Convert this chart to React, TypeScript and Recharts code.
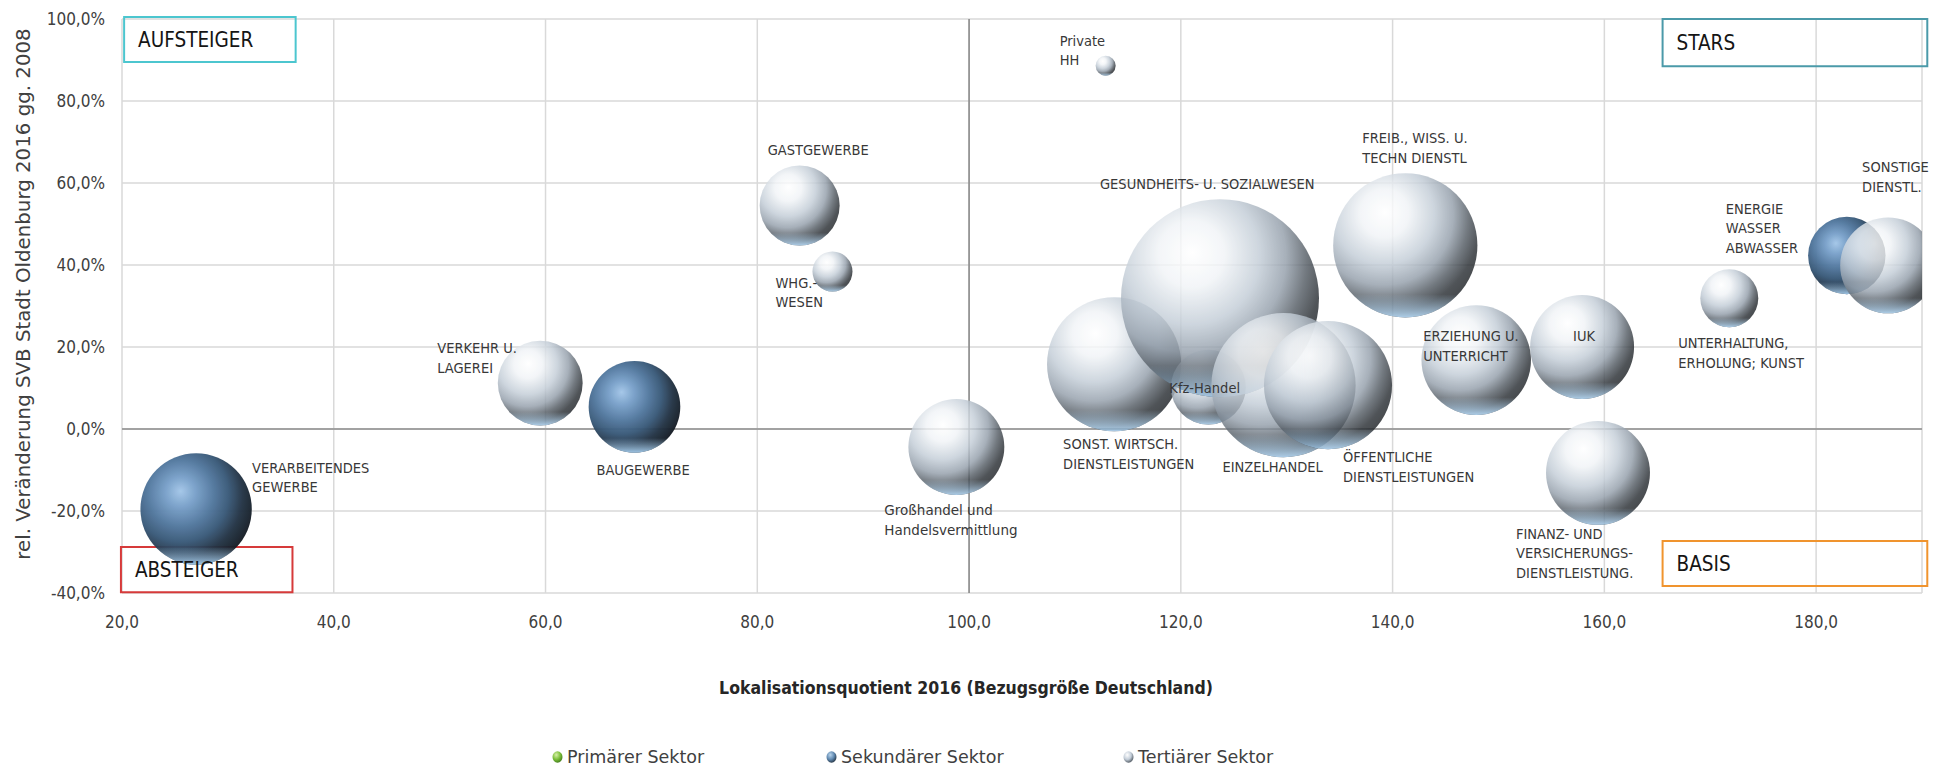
import React from 'react';
import * as Recharts from 'recharts';
import {
  ScatterChart,
  Scatter,
  XAxis,
  YAxis,
  ZAxis,
  CartesianGrid,
  ReferenceLine,
  ReferenceArea,
  Legend,
} from 'recharts';

// x = Lokalisationsquotient 2016, y = rel. Veränderung SVB 2016 gg. 2008 (%), z = SVB (Blasengröße)
const primaerLabels: string[] = [];
const primaerLQ: number[] = [];
const primaerChange: number[] = [];
const primaerSVB: number[] = [];

const sekundaerLabels = ['VERARBEITENDES\nGEWERBE', 'BAUGEWERBE', 'ENERGIE\nWASSER\nABWASSER'];
const sekundaerLQ = [27.0, 68.4, 182.9];
const sekundaerChange = [-19.5, 5.4, 42.3];
const sekundaerSVB = [3100, 2100, 1500];

const tertiaerLabels = [
  'Private\nHH',
  'WHG.-\nWESEN',
  'GASTGEWERBE',
  'VERKEHR U.\nLAGEREI',
  'Großhandel und\nHandelsvermittlung',
  'SONST. WIRTSCH.\nDIENSTLEISTUNGEN',
  'Kfz-Handel',
  'GESUNDHEITS- U. SOZIALWESEN',
  'EINZELHANDEL',
  'ÖFFENTLICHE\nDIENSTLEISTUNGEN',
  'FREIB., WISS. U.\nTECHN DIENSTL',
  'ERZIEHUNG U.\nUNTERRICHT',
  'IUK',
  'FINANZ- UND\nVERSICHERUNGS-\nDIENSTLEISTUNG.',
  'UNTERHALTUNG,\nERHOLUNG; KUNST',
  'SONSTIGE\nDIENSTL.',
];
const tertiaerLQ = [112.9, 87.1, 84.0, 59.5, 98.8, 113.7, 122.6, 123.7, 129.7, 133.9, 141.2, 147.9, 157.9, 159.4, 171.8, 186.8];
const tertiaerChange = [88.6, 38.4, 54.5, 11.2, -4.4, 15.8, 10.2, 31.9, 10.7, 10.7, 44.8, 16.8, 20.0, -10.7, 31.9, 39.9];
const tertiaerSVB = [100, 400, 1600, 1800, 2300, 4500, 1400, 9800, 5200, 4100, 5200, 3000, 2700, 2700, 840, 2300];

const xTicks = [20, 40, 60, 80, 100, 120, 140, 160, 180];
const yTicks = [-40, -20, 0, 20, 40, 60, 80, 100];

const xTitle = 'Lokalisationsquotient 2016 (Bezugsgröße Deutschland)';
const yTitle = 'rel. Veränderung SVB Stadt Oldenburg 2016 gg. 2008';

// Quadranten-Kästen (in Datenkoordinaten)
const QUADRANTS = [
  { text: 'AUFSTEIGER', x1: 20.2, x2: 36.4, y1: 89.5, y2: 100.5, color: '#4cc6cf' },
  { text: 'STARS', x1: 165.5, x2: 190.5, y1: 88.5, y2: 100, color: '#4b9aa9' },
  { text: 'ABSTEIGER', x1: 19.9, x2: 36.1, y1: -39.8, y2: -28.8, color: '#d63a3a' },
  { text: 'BASIS', x1: 165.5, x2: 190.5, y1: -38.3, y2: -27.3, color: '#f0942e' },
];

// label offset from bubble centre (first line)
const LABEL_OFFSETS: Record<string, [number, number]> = {
  'VERARBEITENDES\nGEWERBE': [56, -40],
  BAUGEWERBE: [-38, 64],
  'ENERGIE\nWASSER\nABWASSER': [-121, -46],
  'Private\nHH': [-46, -24],
  'WHG.-\nWESEN': [-57, 12],
  GASTGEWERBE: [-32, -55],
  'VERKEHR U.\nLAGEREI': [-103, -34],
  'Großhandel und\nHandelsvermittlung': [-72, 64],
  'SONST. WIRTSCH.\nDIENSTLEISTUNGEN': [-51, 81],
  'Kfz-Handel': [-39, 2],
  'GESUNDHEITS- U. SOZIALWESEN': [-120, -113],
  EINZELHANDEL: [-61, 83],
  'ÖFFENTLICHE\nDIENSTLEISTUNGEN': [15, 73],
  'FREIB., WISS. U.\nTECHN DIENSTL': [-43, -106],
  'ERZIEHUNG U.\nUNTERRICHT': [-53, -23],
  IUK: [-9, -10],
  'FINANZ- UND\nVERSICHERUNGS-\nDIENSTLEISTUNG.': [-82, 62],
  'UNTERHALTUNG,\nERHOLUNG; KUNST': [-51, 46],
  'SONSTIGE\nDIENSTL.': [-26, -97],
};

const COND = '"DejaVu Sans Condensed", "Liberation Sans Narrow", "DejaVu Sans", sans-serif';
const SANS = '"DejaVu Sans", Verdana, sans-serif';
const TEXT = '#404040';

const toPoints = (labels: string[], lq: number[], change: number[], svb: number[]) =>
  labels.map((label, i) => ({ label, x: lq[i], y: change[i], z: svb[i] }));

const primaer = toPoints(primaerLabels, primaerLQ, primaerChange, primaerSVB);
const sekundaer = toPoints(sekundaerLabels, sekundaerLQ, sekundaerChange, sekundaerSVB);
const tertiaer = toPoints(tertiaerLabels, tertiaerLQ, tertiaerChange, tertiaerSVB);

const fmt = (v: number) => v.toFixed(1).replace('.', ',');

// clip bubbles to the plot area (SONSTIGE DIENSTL. is cut at the right edge)
const PlotClip = () => {
  const R: any = Recharts;
  const area = R.usePlotArea ? R.usePlotArea() : null;
  if (!area) return null;
  return (
    <defs>
      <clipPath id="plotClip">
        <rect x={area.x} y={area.y - 200} width={area.width} height={area.height + 400} />
      </clipPath>
    </defs>
  );
};
const hasClip = !!(Recharts as any).usePlotArea;

const sphere = (grad: string, opacity: number) => (props: any) => {
  const { cx, cy, width } = props;
  const r = width / 2;
  if (!r) return <g />;
  return (
    <g opacity={opacity} clipPath={hasClip ? 'url(#plotClip)' : undefined}>
      <circle cx={cx} cy={cy} r={r} fill={`url(#${grad})`} />
      <circle cx={cx} cy={cy} r={r} fill="url(#rim)" />
    </g>
  );
};

const BubbleLabel = (props: any) => {
  const { cx, cy, payload } = props;
  const label: string = payload.label;
  const [dx, dy] = LABEL_OFFSETS[label] || [0, 0];
  const gross = label.startsWith('Gro');
  return (
    <text
      x={cx + dx}
      y={cy + dy}
      fill="#383838"
      fontSize={gross ? 13.5 : 14.5}
      fontFamily={gross ? SANS : COND}
      dominantBaseline="middle"
    >
      {label.split('\n').map((line, i) => (
        <tspan key={i} x={cx + dx} dy={i === 0 ? 0 : 19.5}>
          {line}
        </tspan>
      ))}
    </text>
  );
};

const XTitle = (props: any) => {
  const { x, y, width } = props.viewBox;
  return (
    <text x={x + width / 2 - 56} y={y + 96} textAnchor="middle" dominantBaseline="middle"
      fontFamily={COND} fontWeight="bold" fontSize={17.5} fill="#262626">
      {xTitle}
    </text>
  );
};

const YTitle = (props: any) => {
  const { y, height } = props.viewBox;
  const cx = 24;
  const cy = y + height / 2 - 12;
  return (
    <text x={cx} y={cy} transform={`rotate(-90, ${cx}, ${cy})`} textAnchor="middle" dominantBaseline="middle"
      fontFamily={SANS} fontSize={19.8} fill={TEXT}>
      {yTitle}
    </text>
  );
};

const LEGEND_COLORS: Record<string, [string, string, string]> = {
  'Primärer Sektor': ['#d8f0a8', '#7cbf3a', '#3f7a1a'],
  'Sekundärer Sektor': ['#b8d4ec', '#5f88b0', '#24323f'],
  'Tertiärer Sektor': ['#ffffff', '#c3cdd8', '#4b535c'],
};
const LEGEND_WIDTHS = [274, 297, 200];

const renderLegend = (props: any) => {
  const items = (props.payload || []).filter((p: any) => p.type !== 'none' && LEGEND_COLORS[p.value]);
  return (
    <div style={{ display: 'flex', alignItems: 'center', height: 30, paddingLeft: 552,
      fontFamily: SANS, fontSize: 17.5, color: TEXT }}>
      {items.map((p: any, i: number) => {
        const [c0, c1, c2] = LEGEND_COLORS[p.value];
        const id = `lg${i}`;
        return (
          <div key={p.value} style={{ width: LEGEND_WIDTHS[i], display: 'flex', alignItems: 'center' }}>
            <svg width={11} height={12}>
              <defs>
                <radialGradient id={id} cx="38%" cy="32%" r="72%">
                  <stop offset="0%" stopColor={c0} />
                  <stop offset="55%" stopColor={c1} />
                  <stop offset="100%" stopColor={c2} />
                </radialGradient>
              </defs>
              <ellipse cx={5.5} cy={6} rx={5} ry={5.8} fill={`url(#${id})`} />
            </svg>
            <span style={{ marginLeft: 4 }}>{p.value}</span>
          </div>
        );
      })}
    </div>
  );
};

export default function App() {
  return (
    <div style={{ position: 'absolute', left: 0, top: 0 }}>
      <ScatterChart width={1953} height={769} margin={{ top: 19, right: 31, bottom: 0, left: 0 }}>
        <defs>
          <radialGradient id="tert" cx="34%" cy="30%" r="76%" fx="36%" fy="27%">
            <stop offset="0%" stopColor="#ffffff" />
            <stop offset="22%" stopColor="#f1f4f7" />
            <stop offset="46%" stopColor="#c3cdd7" />
            <stop offset="64%" stopColor="#949fab" />
            <stop offset="78%" stopColor="#555d65" />
            <stop offset="90%" stopColor="#2a2f34" />
            <stop offset="100%" stopColor="#1f2327" />
          </radialGradient>
          <radialGradient id="sek" cx="36%" cy="38%" r="70%" fx="36%" fy="34%">
            <stop offset="0%" stopColor="#a3c6e8" />
            <stop offset="18%" stopColor="#7aa2cb" />
            <stop offset="42%" stopColor="#52789f" />
            <stop offset="62%" stopColor="#385877" />
            <stop offset="80%" stopColor="#223243" />
            <stop offset="100%" stopColor="#12181f" />
          </radialGradient>
          <linearGradient id="rim" x1="0" y1="0" x2="0" y2="1">
            <stop offset="0%" stopColor="#a9d4f7" stopOpacity={0} />
            <stop offset="84%" stopColor="#a9d4f7" stopOpacity={0} />
            <stop offset="100%" stopColor="#a9d4f7" stopOpacity={0.9} />
          </linearGradient>
        </defs>
        <PlotClip />
        <CartesianGrid stroke="#d9d9d9" strokeWidth={1.5} />
        <XAxis
          type="number"
          dataKey="x"
          domain={[20, 190]}
          ticks={xTicks}
          interval={0}
          allowDataOverflow
          tickFormatter={fmt}
          axisLine={false}
          tickLine={false}
          tickSize={0}
          tickMargin={23}
          height={146}
          tick={{ fill: TEXT, fontSize: 17, fontFamily: COND }}
          label={(p: any) => <XTitle {...p} />}
        />
        <XAxis xAxisId="lab" type="number" dataKey="x" domain={[20, 190]} hide />
        <YAxis
          type="number"
          dataKey="y"
          domain={[-40, 100]}
          ticks={yTicks}
          interval={0}
          tickFormatter={(v: number) => `${fmt(v)}%`}
          axisLine={false}
          tickLine={false}
          tickSize={0}
          tickMargin={17}
          width={122}
          tick={{ fill: TEXT, fontSize: 17, fontFamily: COND }}
          label={(p: any) => <YTitle {...p} />}
        />
        <ZAxis type="number" dataKey="z" domain={[0, 10000]} range={[0, 31416]} />
        <ReferenceLine y={0} stroke="#8c8c8c" strokeWidth={1.5} />
        <ReferenceLine x={100} stroke="#5a5a5a" strokeWidth={1} />
        {QUADRANTS.map((q) => (
          <ReferenceArea
            key={q.text}
            x1={q.x1}
            x2={q.x2}
            y1={q.y1}
            y2={q.y2}
            ifOverflow="visible"
            fill="#ffffff"
            fillOpacity={0}
            stroke={q.color}
            strokeWidth={2}
            label={{ value: q.text, position: 'insideLeft', offset: 14, fill: '#151515', fontSize: 20.5, fontFamily: COND }}
          />
        ))}
        <Scatter name="Primärer Sektor" data={primaer} fill="#7cbf3a" isAnimationActive={false} shape={sphere('sek', 1)} />
        <Scatter name="Sekundärer Sektor" data={sekundaer} fill="#5f88b0" isAnimationActive={false} shape={sphere('sek', 0.96)} />
        <Scatter name="Tertiärer Sektor" data={tertiaer} fill="#c6d0da" isAnimationActive={false} shape={sphere('tert', 0.82)} />
        <Scatter
          xAxisId="lab"
          name="labels"
          data={[...sekundaer, ...tertiaer]}
          legendType="none"
          isAnimationActive={false}
          shape={BubbleLabel}
        />
        <Legend
          verticalAlign="bottom"
          content={renderLegend}
          wrapperStyle={{ left: 0, top: 742, width: 1953, height: 30 }}
        />
      </ScatterChart>
    </div>
  );
}
